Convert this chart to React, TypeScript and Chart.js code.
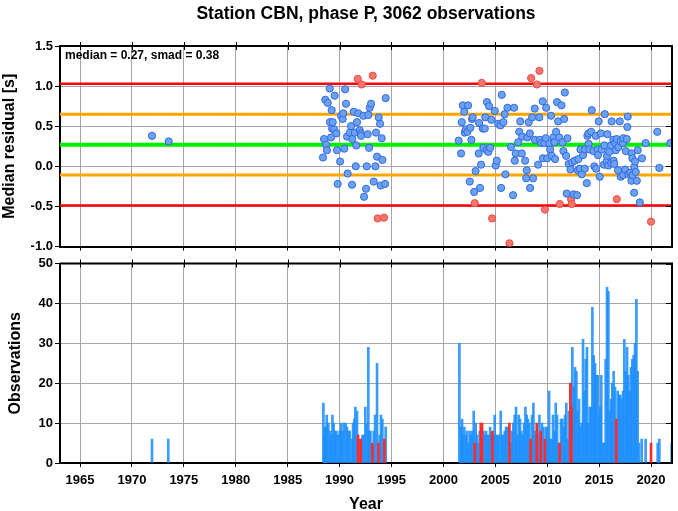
import React, { useEffect, useRef } from "react";
import { Chart, registerables } from "chart.js";

Chart.register(...registerables);

const FONT = "'Liberation Sans', Arial, Helvetica, sans-serif";
const TITLE = "Station CBN, phase P, 3062 observations";
const ANNOTATION = "median = 0.27, smad = 0.38";

const X_MIN = 1963.07;
const X_MAX = 2022.02;
const xTickYears = [1965, 1970, 1975, 1980, 1985, 1990, 1995, 2000, 2005, 2010, 2015, 2020];
const residualTicks = [-1, -0.5, 0, 0.5, 1, 1.5];
const obsTicks = [0, 10, 20, 30, 40, 50];

const medianLevel = 0.27;
const smadLevels = [0.65, -0.11];
const limitLevels = [1.03, -0.49];

const blueYears = [
  1971.93, 1973.54,
  1988.40, 1988.50, 1988.62, 1988.70, 1988.78, 1988.86, 1989.05, 1989.08, 1989.18, 1989.24, 1989.28, 1989.34,
  1989.47, 1989.53, 1989.69, 1989.75, 1989.82, 1990.05, 1990.14, 1990.30, 1990.36, 1990.46, 1990.53, 1990.62,
  1990.72, 1990.78, 1991.00, 1991.10, 1991.20, 1991.23, 1991.36, 1991.46, 1991.56, 1991.61, 1991.68, 1991.81,
  1991.94, 1992.04, 1992.07, 1992.29, 1992.36, 1992.55, 1992.62, 1992.71, 1992.77, 1992.84, 1992.90, 1993.03,
  1993.29, 1993.45, 1993.51, 1993.61, 1993.77, 1993.90, 1993.96, 1994.06, 1994.12, 1994.38, 1994.44,
  2001.47, 2001.70, 2001.77, 2001.87, 2002.00, 2002.06, 2002.15, 2002.31, 2002.38, 2002.54, 2002.60, 2002.70,
  2002.76, 2002.82, 2002.96, 2003.10, 2003.40, 2003.44, 2003.53, 2003.63, 2003.79, 2003.85, 2003.98, 2004.04,
  2004.17, 2004.20, 2004.33, 2004.40, 2004.50, 2004.62, 2004.95, 2005.04, 2005.14, 2005.27, 2005.50, 2005.56,
  2005.62, 2005.78, 2005.90, 2005.97, 2006.17, 2006.51, 2006.71, 2006.81, 2006.88, 2006.97, 2007.20, 2007.30,
  2007.40, 2007.55, 2007.60, 2007.87, 2007.97, 2008.03, 2008.09, 2008.22, 2008.33, 2008.35, 2008.55, 2008.64,
  2008.80, 2008.82, 2009.12, 2009.23, 2009.30, 2009.44, 2009.57, 2009.59, 2009.73, 2009.86, 2009.90, 2010.00,
  2010.20, 2010.28, 2010.37, 2010.44, 2010.60, 2010.70, 2010.76, 2010.86, 2010.95, 2011.05, 2011.15, 2011.37,
  2011.47, 2011.56, 2011.63, 2011.70, 2011.82, 2011.88, 2011.95, 2012.08, 2012.24, 2012.40, 2012.55, 2012.65,
  2012.87, 2012.95, 2013.00, 2013.14, 2013.20, 2013.33, 2013.45, 2013.62, 2013.65, 2013.81, 2013.87, 2013.97,
  2013.99, 2014.06, 2014.23, 2014.29, 2014.45, 2014.54, 2014.68, 2014.71, 2014.87, 2014.89, 2014.96, 2015.06,
  2015.16, 2015.25, 2015.46, 2015.51, 2015.54, 2015.73, 2015.75, 2015.80, 2015.89, 2015.99, 2016.15, 2016.17,
  2016.21, 2016.37, 2016.39, 2016.46, 2016.54, 2016.60, 2016.69, 2016.82, 2016.86, 2016.99, 2017.05, 2017.08,
  2017.28, 2017.31, 2017.33, 2017.50, 2017.57, 2017.66, 2017.72, 2017.76, 2017.82, 2018.00, 2018.11, 2018.14,
  2018.20, 2018.22, 2018.37, 2018.39, 2018.46, 2018.53, 2018.63, 2018.72, 2018.92, 2019.13, 2019.48, 2020.60,
  2020.80, 2021.85,
];
const blueMedians = [
  0.38, 0.31,
  0.11, 0.34, 0.83, 0.27, 0.20, 0.79, 0.97, 0.55, 0.36, 0.70, 0.47, 0.55,
  0.46, 0.88, 0.41, 0.20, -0.22, 0.06, 0.63, 0.59, 0.66, 0.22, 0.96, 0.78,
  0.37, -0.09, 0.42, 0.50, -0.23, 0.34, 0.68, 0.42, 0.00, 0.26, 0.55, 0.66,
  0.45, 0.41, 0.38, 0.63, -0.38, -0.28, 0.00, 0.40, 0.64, 0.23, 0.73, 0.78,
  -0.19, 0.00, 0.42, 0.12, 0.61, 0.53, -0.24, 0.35, 0.08, -0.22, 0.85,
  0.32, 0.16, 0.55, 0.76, 0.68, 0.42, 0.46, 0.43, 0.76, -0.19, 0.48, 0.33,
  0.59, 0.61, -0.32, -0.06, 0.16, 0.54, -0.27, 0.02, 0.47, 0.23, 0.47, 0.61,
  0.20, 0.80, 0.18, 0.75, 0.23, 0.58, 0.69, 0.01, 0.07, 0.53, 0.51, -0.27,
  0.89, 0.55, 0.65, -0.10, 0.73, 0.24, -0.36, 0.73, 0.07, 0.16, 0.30, 0.43,
  0.56, 0.16, 0.37, 0.07, -0.15, -0.05, 0.36, 0.55, 0.41, -0.27, 0.61, -0.15,
  0.72, 0.33, 0.02, 0.61, 0.33, 0.29, 0.81, 0.10, 0.29, 0.35, 0.73, 0.10,
  0.28, 0.21, 0.63, 0.13, 0.36, 0.30, 0.09, 0.43, 0.80, 0.56, 0.36, 0.76,
  0.30, 0.19, 0.59, 0.92, 0.13, -0.34, 0.35, 0.03, -0.04, 0.05, -0.35, 0.07,
  -0.36, -0.05, 0.09, -0.03, 0.21, -0.10, 0.14, -0.03, 0.21, -0.21, 0.38, 0.41,
  0.28, 0.21, 0.43, 0.70, 0.19, 0.00, 0.38, -0.03, 0.21, 0.14, 0.56, -0.13,
  0.41, 0.21, 0.02, 0.26, 0.65, 0.06, 0.13, 0.40, 0.01, 0.18, 0.26, 0.04,
  0.56, 0.33, 0.07, 0.03, 0.29, 0.20, 0.34, -0.05, 0.24, 0.56, 0.31, -0.13,
  0.29, -0.11, 0.35, -0.04, 0.19, 0.34, 0.49, 0.62, -0.10, -0.08, -0.18, 0.16,
  0.10, -0.11, -0.33, -0.01, 0.06, -0.07, -0.18, 0.20, -0.45, 0.10, 0.29, 0.43,
  -0.02, 0.29,
];

const redYears = [
  1991.75, 1992.13, 1993.19, 1993.67, 1994.28, 2003.02, 2003.70, 2004.69, 2006.36,
  2008.45, 2009.00, 2009.25, 2009.78, 2011.21, 2012.30, 2012.36, 2016.70, 2020.00,
];
const redMedians = [
  1.09, 1.02, 1.13, -0.65, -0.64, -0.46, 1.04, -0.65, -0.96,
  1.10, 1.02, 1.19, -0.54, -0.47, -0.41, -0.47, -0.41, -0.69,
];

const barYears = [
  1971.93, 1973.50,
  1988.44, 1988.52, 1988.60, 1988.68, 1988.76, 1988.92, 1989.05, 1989.18, 1989.31, 1989.43, 1989.56, 1989.69,
  1989.82, 1990.01, 1990.14, 1990.27, 1990.40, 1990.59, 1990.72, 1990.85, 1990.98, 1991.17, 1991.30, 1991.42,
  1991.52, 1991.68, 1991.91, 1992.20, 1992.32, 1992.48, 1992.61, 1992.77, 1992.87, 1992.97, 1993.29, 1993.42,
  1993.61, 1993.86, 1993.99, 1994.12, 1994.44,
  2001.54, 2001.67, 2001.80, 2001.89, 2002.02, 2002.15, 2002.28, 2002.41, 2002.54, 2002.67, 2002.79, 2002.92,
  2003.11, 2003.24, 2003.37, 2003.50, 2003.85, 2003.98, 2004.11, 2004.24, 2004.37, 2004.50, 2004.62, 2004.82,
  2004.94, 2005.07, 2005.20, 2005.33, 2005.52, 2005.65, 2005.78, 2005.91, 2006.04, 2006.16, 2006.49, 2006.61,
  2006.74, 2006.87, 2007.00, 2007.13, 2007.26, 2007.38, 2007.51, 2007.64, 2007.77, 2007.90, 2008.03, 2008.15,
  2008.28, 2008.54, 2008.67, 2008.80, 2008.92, 2009.12, 2009.25, 2009.50, 2009.63, 2009.89, 2010.02,
  2010.18, 2010.30, 2010.43, 2010.56, 2010.69, 2010.82, 2010.95, 2011.07, 2011.33, 2011.46, 2011.59, 2011.72,
  2011.84, 2011.97, 2012.10, 2012.42, 2012.55, 2012.68, 2012.81, 2012.94, 2013.06, 2013.19, 2013.32, 2013.45,
  2013.58, 2013.71, 2013.83, 2013.96, 2014.09, 2014.22, 2014.35, 2014.48, 2014.61, 2014.73, 2014.86, 2014.99,
  2015.12, 2015.21, 2015.38, 2015.50, 2015.63, 2015.76, 2015.89, 2016.02, 2016.15, 2016.27, 2016.40, 2016.53,
  2016.79, 2016.92, 2017.04, 2017.17, 2017.30, 2017.43, 2017.56, 2017.69, 2017.81, 2017.94, 2018.07, 2018.20,
  2018.33, 2018.46, 2018.59, 2018.71, 2018.84, 2019.10, 2019.48, 2020.64, 2020.80, 2021.99,
];
const barCounts = [
  6, 6,
  15, 7, 9, 9, 12, 10, 8, 7, 12, 10, 8, 8,
  7, 8, 10, 8, 10, 10, 9, 8, 8, 6, 10, 11,
  14, 13, 6, 7, 7, 14, 10, 29, 8, 8, 8, 12,
  25, 7, 12, 11, 9,
  30, 9, 11, 7, 9, 7, 8, 5, 8, 7, 8, 13,
  10, 7, 5, 8, 8, 7, 8, 7, 7, 9, 7, 7,
  12, 7, 7, 7, 13, 7, 7, 8, 9, 9, 5, 8,
  10, 12, 14, 7, 12, 11, 8, 7, 10, 14, 12, 11,
  10, 12, 15, 8, 7, 7, 12, 10, 9, 9, 9,
  18, 6, 6, 12, 8, 15, 12, 5, 11, 11, 9, 12,
  15, 6, 13, 29, 19, 24, 23, 13, 16, 9, 10, 31,
  18, 26, 29, 10, 14, 14, 39, 27, 25, 22, 22, 12,
  14, 22, 5, 5, 26, 44, 43, 13, 16, 20, 23, 19,
  18, 17, 17, 16, 18, 31, 23, 29, 22, 18, 24, 26,
  27, 30, 41, 23, 5, 6, 6, 5, 6, 5,
];

const redBarYears = [
  1991.78, 1992.03, 1993.16, 1993.74, 1994.31, 2003.02, 2003.60, 2003.72, 2004.72, 2006.36,
  2008.41, 2008.99, 2009.37, 2009.77, 2011.20, 2012.23, 2012.33, 2016.66, 2020.00,
];
const redBarCounts = [7, 6, 5, 5, 6, 5, 10, 10, 8, 10, 6, 10, 8, 6, 5, 20, 14, 11, 5];

const GRID = "#a6a6a6";

function fixedTicks(values: number[]) {
  return (scale: any) => {
    scale.ticks = values.map((v) => ({ value: v }));
  };
}

function frameDecor(id: string, draw: (chart: any) => void) {
  return {
    id,
    afterDraw(chart: any) {
      const { ctx, chartArea: a, scales } = chart;
      ctx.save();
      ctx.strokeStyle = "#000";
      ctx.lineWidth = 2;
      ctx.beginPath();
      ctx.moveTo(a.left, a.top);
      ctx.lineTo(a.right, a.top);
      ctx.lineTo(a.right, a.bottom);
      ctx.stroke();
      ctx.lineWidth = 1;
      xTickYears.forEach((v) => {
        const x = Math.round(scales.x.getPixelForValue(v)) + 0.5;
        ctx.beginPath();
        ctx.moveTo(x, a.top - 4);
        ctx.lineTo(x, a.top + 4);
        ctx.stroke();
      });
      scales.y.ticks.forEach((t: any) => {
        const y = Math.round(scales.y.getPixelForValue(t.value)) + 0.5;
        ctx.beginPath();
        ctx.moveTo(a.right - 6, y);
        ctx.lineTo(a.right, y);
        ctx.stroke();
      });
      ctx.restore();
      ctx.save();
      draw(chart);
      ctx.restore();
    },
  };
}

const topDecor = frameDecor("topDecor", (chart) => {
  const { ctx, chartArea: a } = chart;
  ctx.fillStyle = "#000";
  ctx.font = `bold 17.5px ${FONT}`;
  ctx.textAlign = "center";
  ctx.textBaseline = "alphabetic";
  ctx.fillText(TITLE, (a.left + a.right) / 2, 19);
  ctx.font = `bold 12px ${FONT}`;
  ctx.textAlign = "left";
  ctx.fillText(ANNOTATION, a.left + 5, a.top + 13);
  ctx.translate(10, (a.top + a.bottom) / 2);
  ctx.rotate(-Math.PI / 2);
  ctx.font = `bold 16px ${FONT}`;
  ctx.textAlign = "center";
  ctx.textBaseline = "middle";
  ctx.fillText("Median residual [s]", 0, 0);
});

const bottomDecor = frameDecor("bottomDecor", (chart) => {
  const { ctx, chartArea: a } = chart;
  ctx.fillStyle = "#000";
  ctx.font = `bold 16px ${FONT}`;
  ctx.textAlign = "center";
  ctx.textBaseline = "alphabetic";
  ctx.fillText("Year", (a.left + a.right) / 2, 254);
  ctx.translate(16, (a.top + a.bottom) / 2);
  ctx.rotate(-Math.PI / 2);
  ctx.textBaseline = "middle";
  ctx.fillText("Observations", 0, 0);
});

function hLine(level: number, color: string, width: number) {
  return {
    type: "line" as const,
    data: [
      { x: X_MIN, y: level },
      { x: X_MAX, y: level },
    ],
    borderColor: color,
    borderWidth: width,
    pointRadius: 0,
    showLine: true,
    fill: false,
    order: 2,
  };
}

export default function App() {
  const topRef = useRef<HTMLCanvasElement | null>(null);
  const botRef = useRef<HTMLCanvasElement | null>(null);

  useEffect(() => {
    const tickFont = { family: FONT, size: 13, weight: "bold" as const, lineHeight: 1 };

    const top = new Chart(topRef.current!, {
      type: "scatter",
      data: {
        datasets: [
          {
            data: blueYears.map((x, i) => ({ x, y: blueMedians[i] })),
            backgroundColor: "#6aa2f0",
            borderColor: "#3368e6",
            borderWidth: 1,
            pointRadius: 3.6,
            order: 0,
          },
          {
            data: redYears.map((x, i) => ({ x, y: redMedians[i] })),
            backgroundColor: "#f7766c",
            borderColor: "#ec4a4a",
            borderWidth: 1,
            pointRadius: 3.6,
            order: 0,
          },
          hLine(limitLevels[0], "#ff0000", 2.5),
          hLine(limitLevels[1], "#ff0000", 2.5),
          hLine(smadLevels[0], "#ffa500", 3),
          hLine(smadLevels[1], "#ffa500", 3),
          hLine(medianLevel, "#00f000", 4),
        ] as any,
      },
      options: {
        animation: false,
        responsive: false,
        events: [],
        layout: { padding: { top: 46, right: 6, left: 0, bottom: 0 } },
        plugins: { legend: { display: false }, tooltip: { enabled: false } },
        scales: {
          x: {
            type: "linear",
            min: X_MIN,
            max: X_MAX,
            afterBuildTicks: fixedTicks(xTickYears),
            afterFit: (s: any) => {
              s.height = 8;
            },
            ticks: { display: false },
            grid: { color: GRID, lineWidth: 1, tickLength: 4, tickColor: "#000" },
            border: { color: "#000", width: 2 },
          },
          y: {
            min: -1,
            max: 1.5,
            afterBuildTicks: fixedTicks(residualTicks),
            afterFit: (s: any) => {
              s.width = 60;
            },
            ticks: {
              font: tickFont,
              color: "#000",
              padding: 2,
              callback: (v: any) => Number(v).toFixed(1),
            },
            grid: { color: GRID, lineWidth: 1, tickLength: 5, tickColor: "#000" },
            border: { color: "#000", width: 2 },
          },
        },
      } as any,
      plugins: [topDecor],
    });

    const bottom = new Chart(botRef.current!, {
      type: "bar",
      data: {
        datasets: [
          {
            data: redBarYears.map((x, i) => ({ x, y: redBarCounts[i] })),
            backgroundColor: "#ff2a2a",
            barThickness: 2,
            grouped: false,
            order: 0,
          },
          {
            data: barYears.map((x, i) => ({ x, y: barCounts[i] })),
            backgroundColor: "rgba(30,144,255,0.88)",
            barThickness: 2,
            grouped: false,
            order: 1,
          },
        ] as any,
      },
      options: {
        animation: false,
        responsive: false,
        events: [],
        layout: { padding: { top: 7, right: 6, left: 0, bottom: 0 } },
        plugins: { legend: { display: false }, tooltip: { enabled: false } },
        scales: {
          x: {
            type: "linear",
            min: X_MIN,
            max: X_MAX,
            offset: false,
            afterBuildTicks: fixedTicks(xTickYears),
            afterFit: (s: any) => {
              s.height = 48;
            },
            ticks: {
              font: tickFont,
              color: "#000",
              padding: 7,
              maxRotation: 0,
              autoSkip: false,
              callback: (v: any) => String(v),
            },
            grid: { color: GRID, lineWidth: 1, tickLength: 4, tickColor: "#000", offset: false },
            border: { color: "#000", width: 2 },
          },
          y: {
            min: 0,
            max: 50,
            afterBuildTicks: fixedTicks(obsTicks),
            afterFit: (s: any) => {
              s.width = 60;
            },
            ticks: {
              font: tickFont,
              color: "#000",
              padding: 2,
              callback: (v: any) => String(v),
            },
            grid: { color: GRID, lineWidth: 1, tickLength: 5, tickColor: "#000" },
            border: { color: "#000", width: 2 },
          },
        },
      } as any,
      plugins: [bottomDecor],
    });

    return () => {
      top.destroy();
      bottom.destroy();
    };
  }, []);

  return (
    <div style={{ position: "absolute", left: 0, top: 0, width: 678, height: 511, background: "#fff" }}>
      <canvas
        ref={topRef}
        width={678}
        height={255}
        style={{ position: "absolute", left: 0, top: 0, width: 678, height: 255 }}
      />
      <canvas
        ref={botRef}
        width={678}
        height={256}
        style={{ position: "absolute", left: 0, top: 255, width: 678, height: 256 }}
      />
    </div>
  );
}
